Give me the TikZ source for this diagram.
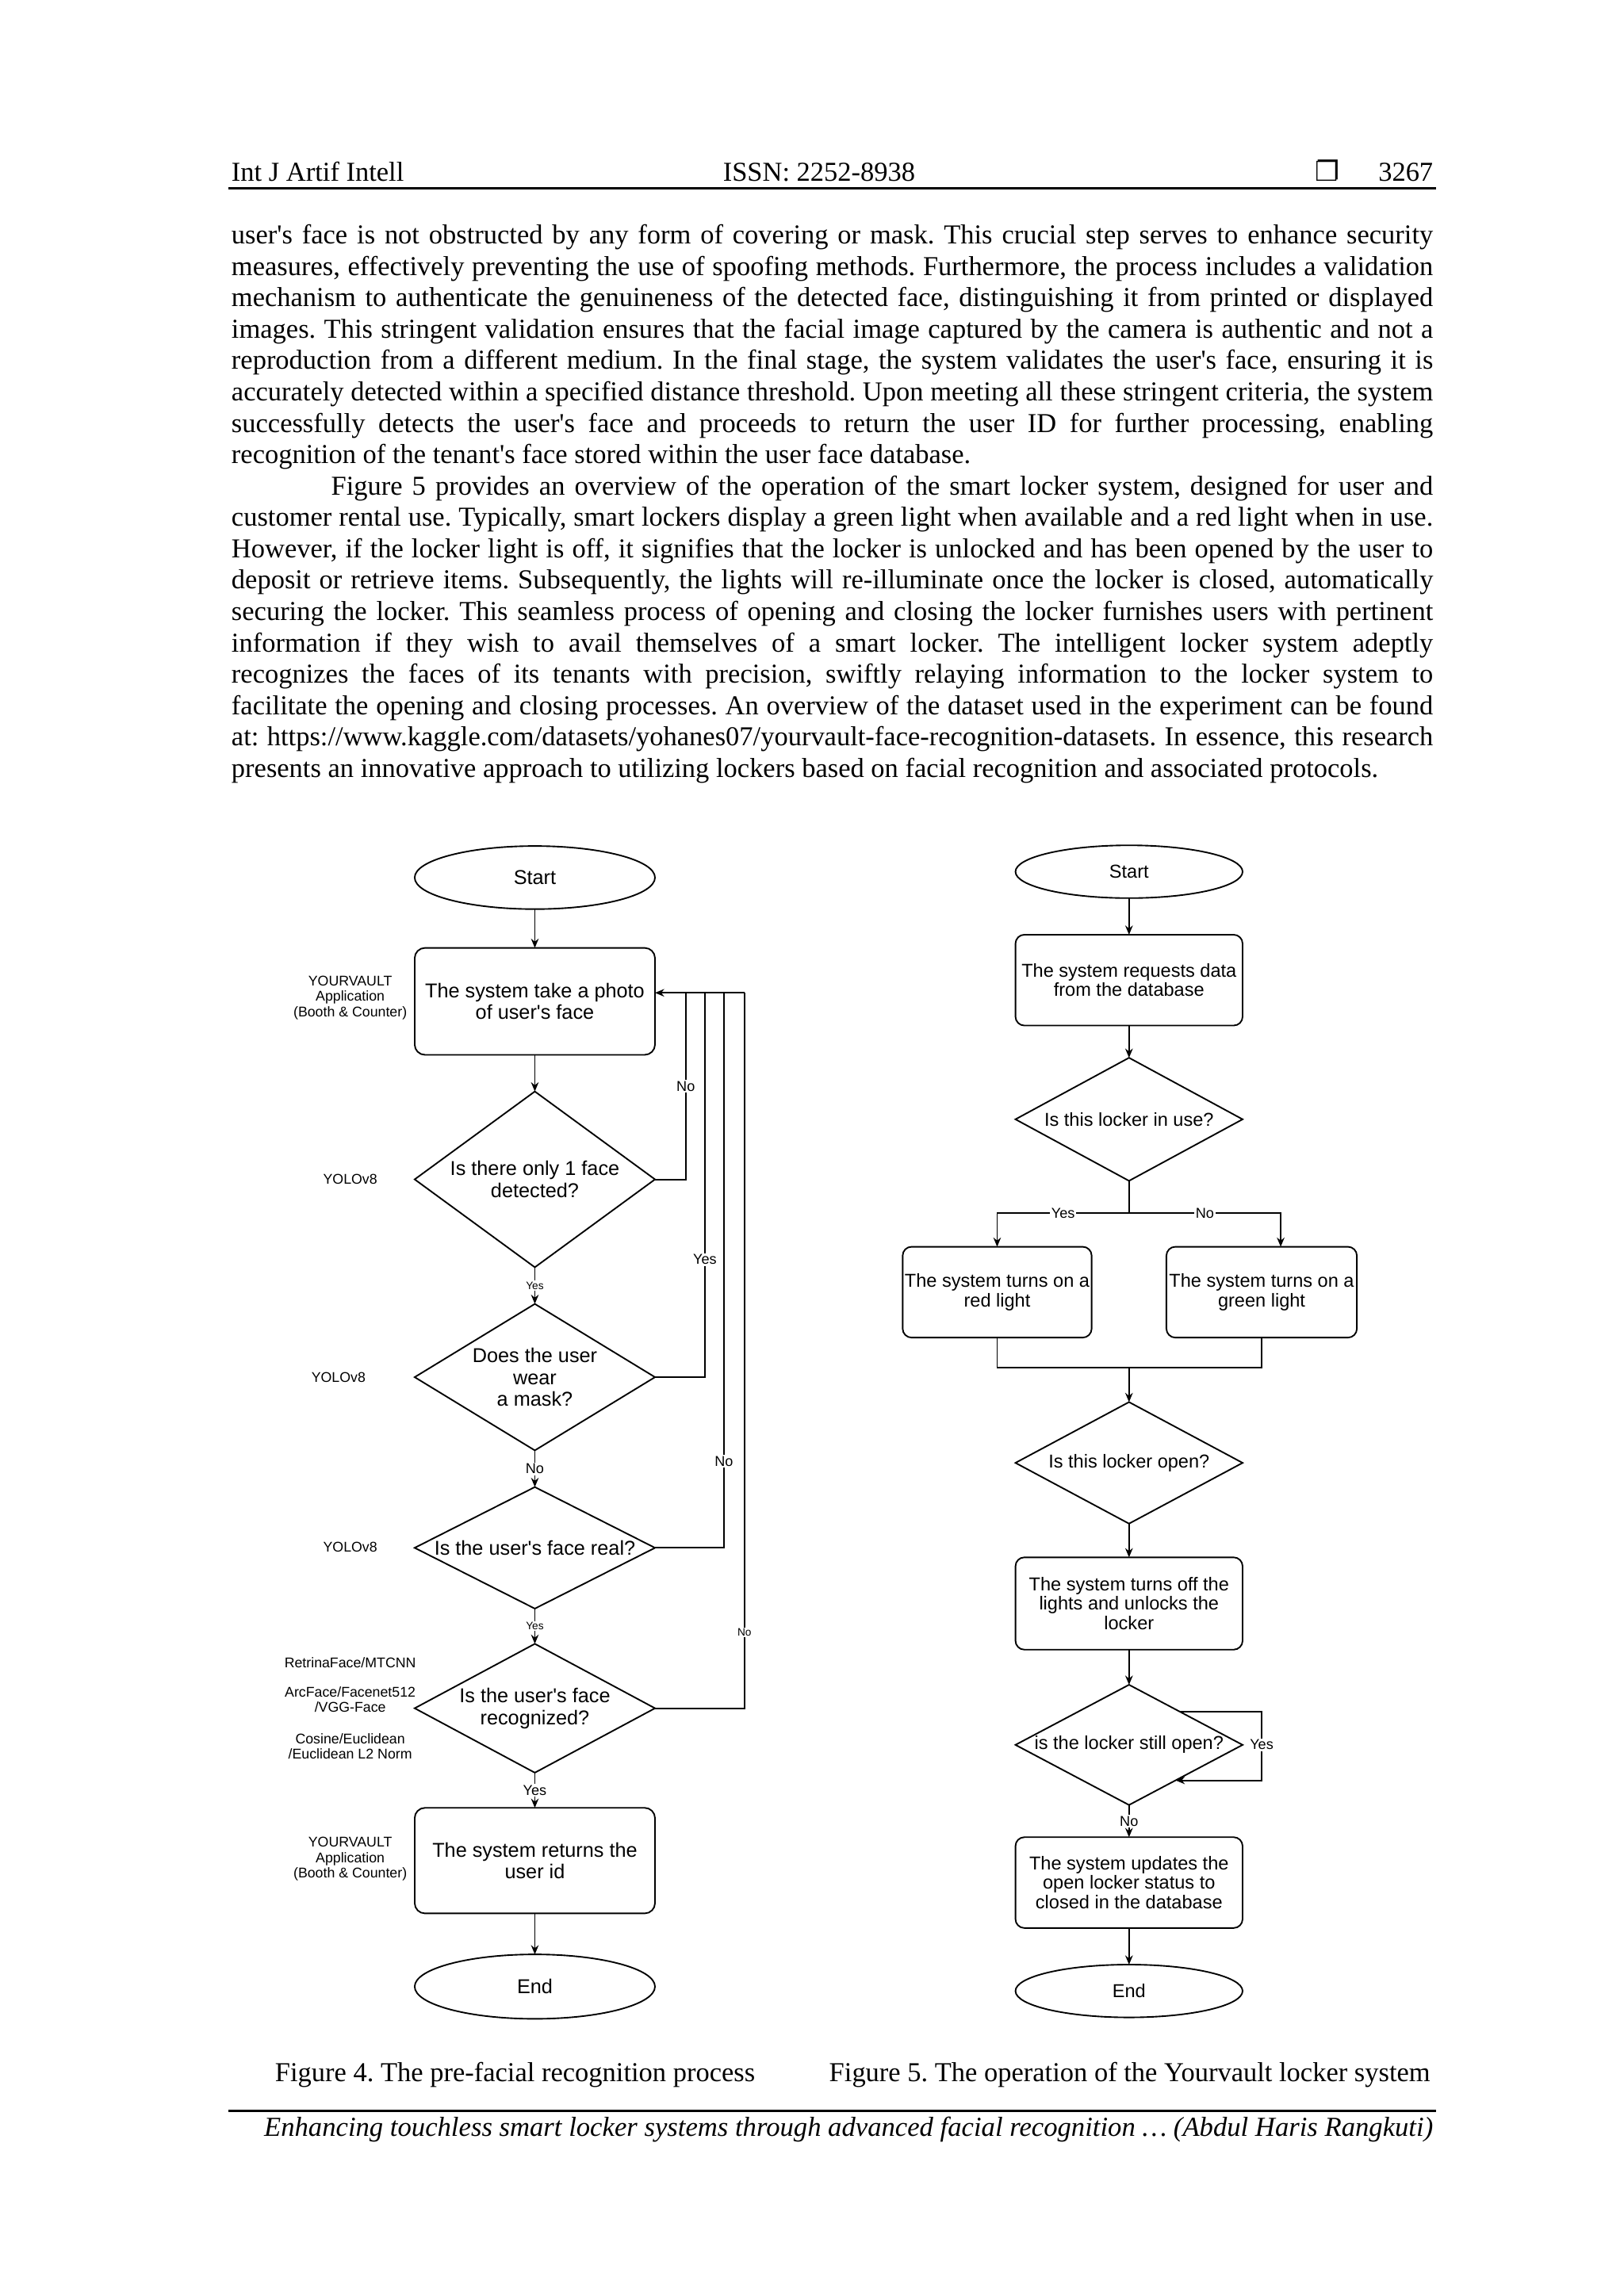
\documentclass[tikz,border=0pt]{standalone}
\usepackage{fontspec}
\setmainfont{Liberation Serif}[Ligatures=TeXOff]
\setsansfont{Liberation Sans}[Ligatures=TeXOff]
\newfontfamily\symfont{DejaVu Sans}
\usetikzlibrary{shapes.geometric,arrows.meta,calc}
\newcommand\jline[2]{\makebox[#1][s]{#2}}
\frenchspacing
\begin{document}
\begin{tikzpicture}[x=0.54116pt,y=-0.54116pt,
  every node/.style={inner sep=0pt, outer sep=0pt},
  body/.style={anchor=base west, font=\frenchspacing\fontsize{10.1}{11.6}\selectfont},
  fc/.style={draw, line width=0.55pt},
  arr/.style={line width=0.55pt, -{Stealth[length=3.4pt,width=2.8pt]}},
  ln/.style={line width=0.55pt},
  ltxt/.style={font=\sffamily\fontsize{7.4}{8.1}\selectfont, align=center},
  rtxt/.style={font=\sffamily\fontsize{6.9}{7.1}\selectfont, align=center},
  side/.style={font=\sffamily\fontsize{5.2}{5.7}\selectfont, align=center},
  lbox/.style={fc, rectangle, rounded corners=3.8pt, minimum width=88.75pt},
  rbox/.style={fc, rectangle, rounded corners=3.3pt},
  term/.style={fc, ellipse},
  dia/.style={fc, diamond},
  lab/.style={fill=white, inner sep=0.5pt, font=\sffamily\fontsize{5.3}{6}\selectfont},
  labt/.style={fill=white, inner sep=0.4pt, font=\sffamily\fontsize{4}{5}\selectfont}
]
\useasboundingbox[fill=white] (0,0) rectangle (1108.25,1567.2);

% ---------- header ----------
\node[anchor=base west, font=\fontsize{10.1}{12}\selectfont] (h1) at (158,123.5) {Int J Artif Intell};
\node[anchor=base, font=\fontsize{10.1}{12}\selectfont] (h2) at (559,123.5) {ISSN: 2252-8938};
\node[anchor=base, font=\symfont\fontsize{10.1}{12}\selectfont] (h3) at (906,123.5) {❐};
\node[anchor=base east, font=\fontsize{10.1}{12}\selectfont] (h4) at (978,123.5) {3267};
\draw[line width=0.9pt] (156,128.5) -- (980,128.5);

% ---------- body text ----------
\node[body] (t1) at (158,166.5) {\jline{443.75pt}{user's face is not obstructed by any form of covering or mask. This crucial step serves to enhance security}};
\node[body] (t2) at (158,187.91) {\jline{443.75pt}{measures, effectively preventing the use of spoofing methods. Furthermore, the process includes a validation}};
\node[body] (t3) at (158,209.32) {\jline{443.75pt}{mechanism to authenticate the genuineness of the detected face, distinguishing it from printed or displayed}};
\node[body] (t4) at (158,230.73) {\jline{443.75pt}{images. This stringent validation ensures that the facial image captured by the camera is authentic and not a}};
\node[body] (t5) at (158,252.14) {\jline{443.75pt}{reproduction from a different medium. In the final stage, the system validates the user's face, ensuring it is}};
\node[body] (t6) at (158,273.55) {\jline{443.75pt}{accurately detected within a specified distance threshold. Upon meeting all these stringent criteria, the system}};
\node[body] (t7) at (158,294.96) {\jline{443.75pt}{successfully detects the user's face and proceeds to return the user ID for further processing, enabling}};
\node[body] (t8) at (158,316.37) {recognition of the tenant's face stored within the user face database.};
\node[body] (t9) at (226,337.78) {\jline{406.95pt}{Figure 5 provides an overview of the operation of the smart locker system, designed for user and}};
\node[body] (t10) at (158,359.19) {\jline{443.75pt}{customer rental use. Typically, smart lockers display a green light when available and a red light when in use.}};
\node[body] (t11) at (158,380.6) {\jline{443.75pt}{However, if the locker light is off, it signifies that the locker is unlocked and has been opened by the user to}};
\node[body] (t12) at (158,402.01) {\jline{443.75pt}{deposit or retrieve items. Subsequently, the lights will re-illuminate once the locker is closed, automatically}};
\node[body] (t13) at (158,423.42) {\jline{443.75pt}{securing the locker. This seamless process of opening and closing the locker furnishes users with pertinent}};
\node[body] (t14) at (158,444.83) {\jline{443.75pt}{information if they wish to avail themselves of a smart locker. The intelligent locker system adeptly}};
\node[body] (t15) at (158,466.24) {\jline{443.75pt}{recognizes the faces of its tenants with precision, swiftly relaying information to the locker system to}};
\node[body] (t16) at (158,487.65) {\jline{443.75pt}{facilitate the opening and closing processes. An overview of the dataset used in the experiment can be found}};
\node[body] (t17) at (158,509.06) {\jline{443.75pt}{at: https://www.kaggle.com/datasets/yohanes07/yourvault-face-recognition-datasets. In essence, this research}};
\node[body] (t18) at (158,530.47) {presents an innovative approach to utilizing lockers based on facial recognition and associated protocols.};

% ---------- left flowchart (Figure 4) ----------
\node[term, ltxt, minimum width=88.75pt, minimum height=23.3pt] (ls) at (365,599) {Start};
\node[lbox, ltxt, minimum height=39.5pt] (lb1) at (365,683.5) {The system take a photo\\of user's face};
\node[dia, minimum width=88.75pt, minimum height=64.94pt] (ld1) at (365,805) {};
\node[ltxt] (ld1t) at (ld1) {Is there only 1 face\\detected?};
\node[dia, minimum width=88.75pt, minimum height=54.1pt] (ld2) at (365,940) {};
\node[ltxt] (ld2t) at (ld2) {Does the user\\wear\\a mask?};
\node[dia, minimum width=88.75pt, minimum height=44.9pt] (ld3) at (365,1056.5) {};
\node[ltxt] (ld3t) at (ld3) {Is the user's face real?};
\node[dia, minimum width=88.75pt, minimum height=47.6pt] (ld4) at (365,1166) {};
\node[ltxt] (ld4t) at (ld4) {Is the user's face\\recognized?};
\node[lbox, ltxt, minimum height=39pt] (lb2) at (365,1270) {The system returns the\\user id};
\node[term, ltxt, minimum width=88.75pt, minimum height=23.8pt] (le) at (365,1356) {End};

\node[side] (s1) at (239,681) {YOURVAULT\\Application\\(Booth \& Counter)};
\node[side] (s2) at (239,805) {YOLOv8};
\node[side] (s3) at (231,940) {YOLOv8};
\node[side] (s4) at (239,1056) {YOLOv8};
\node[side] (s5) at (239,1135) {RetrinaFace/MTCNN};
\node[side] (s6) at (239,1160) {ArcFace/Facenet512\\/VGG-Face};
\node[side] (s7) at (239,1192) {Cosine/Euclidean\\/Euclidean L2 Norm};
\node[side] (s8) at (239,1269) {YOURVAULT\\Application\\(Booth \& Counter)};

\draw[arr] (ls) -- (lb1);
\draw[arr] (lb1) -- (ld1);
\draw[arr] (ld1) -- node[labt]{Yes} (ld2);
\draw[arr] (ld2) -- node[lab]{No} (ld3);
\draw[arr] (ld3) -- node[labt]{Yes} (ld4);
\draw[arr] (ld4) -- node[lab]{Yes} (lb2);
\draw[arr] (lb2) -- (le);

\coordinate (in1) at ($(lb1.north east)!0.42!(lb1.south east)$);
\coordinate (c1) at ($(in1)+(21,0)$);
\coordinate (c2) at ($(in1)+(34,0)$);
\coordinate (c3) at ($(in1)+(47,0)$);
\coordinate (c4) at ($(in1)+(61,0)$);
\draw[ln] (ld1.east) -| node[lab,pos=0.75]{No} (c1);
\draw[ln] (ld2.east) -| node[lab,pos=0.653]{Yes} (c2);
\draw[ln] (ld3.east) -| node[lab,pos=0.578]{No} (c3);
\draw[ln] (ld4.east) -| node[labt,pos=0.553]{No} (c4);
\draw[arr] (c4) -- (in1);

% ---------- right flowchart (Figure 5) ----------
\node[term, rtxt, minimum width=83.88pt, minimum height=19.5pt] (rs) at (770.5,595) {Start};
\node[rbox, rtxt, minimum width=83.88pt, minimum height=33.55pt] (rb1) at (770.5,669) {The system requests data\\from the database};
\node[dia, minimum width=83.88pt, minimum height=45.46pt] (rd1) at (770.5,764) {};
\node[rtxt] (rd1t) at (rd1) {Is this locker in use?};
\node[rbox, rtxt, minimum width=69.8pt, minimum height=33.55pt] (rb2) at (680.5,882) {The system turns on a\\red light};
\node[rbox, rtxt, minimum width=70.35pt, minimum height=33.55pt] (rb3) at (861,882) {The system turns on a\\green light};
\node[dia, minimum width=83.88pt, minimum height=44.9pt] (rd2) at (770.5,998.5) {};
\node[rtxt] (rd2t) at (rd2) {Is this locker open?};
\node[rbox, rtxt, minimum width=83.88pt, minimum height=34.1pt] (rb4) at (770.5,1094.5) {The system turns off the\\lights and unlocks the\\locker};
\node[dia, minimum width=83.88pt, minimum height=44.4pt] (rd3) at (770.5,1191) {};
\node[rtxt] (rd3t) at (rd3) {is the locker still open?};
\node[rbox, rtxt, minimum width=83.88pt, minimum height=33.55pt] (rb5) at (770.5,1285) {The system updates the\\open locker status to\\closed in the database};
\node[term, rtxt, minimum width=83.88pt, minimum height=19.5pt] (re) at (770.5,1359) {End};

\draw[arr] (rs) -- (rb1);
\draw[arr] (rb1) -- (rd1);
\coordinate (sp) at ($(rd1.south)+(0,22)$);
\draw[ln] (rd1.south) -- (sp);
\draw[arr] (sp) -| node[lab,pos=0.25]{Yes} (rb2.north);
\draw[arr] (sp) -| node[lab,pos=0.25]{No} ($(rb3.north)+(13,0)$);
\coordinate (mg) at ($(rd2.north)+(0,-23.5)$);
\draw[ln] (rb2.south) |- (mg) -| (rb3.south);
\draw[arr] (mg) -- (rd2);
\draw[arr] (rd2) -- (rb4);
\draw[arr] (rb4) -- (rd3);
\coordinate (lp1) at ($(rd3.north)!0.45!(rd3.east)$);
\coordinate (lp2) at ($(rd3.east)!0.59!(rd3.south)$);
\coordinate (lx) at ($(rd3.center)+(90.5,0)$);
\draw[arr] (lp1) -| (lx) |- (lp2);
\node[lab] (ly) at (lx) {Yes};
\draw[arr] (rd3) -- node[lab]{No} (rb5);
\draw[arr] (rb5) -- (re);

% ---------- captions and footer ----------
\node[anchor=base, font=\fontsize{10.1}{12}\selectfont] (cap4) at (351.5,1421) {Figure 4. The pre-facial recognition process};
\node[anchor=base, font=\fontsize{10.1}{12}\selectfont] (cap5) at (771,1421) {Figure 5. The operation of the Yourvault locker system};
\draw[line width=0.9pt] (156,1441) -- (980,1441);
\node[anchor=base east, font=\itshape\fontsize{10.15}{12}\selectfont] (ft) at (978,1458) {Enhancing touchless smart locker systems through advanced facial recognition … (Abdul Haris Rangkuti)};
\end{tikzpicture}
\end{document}
